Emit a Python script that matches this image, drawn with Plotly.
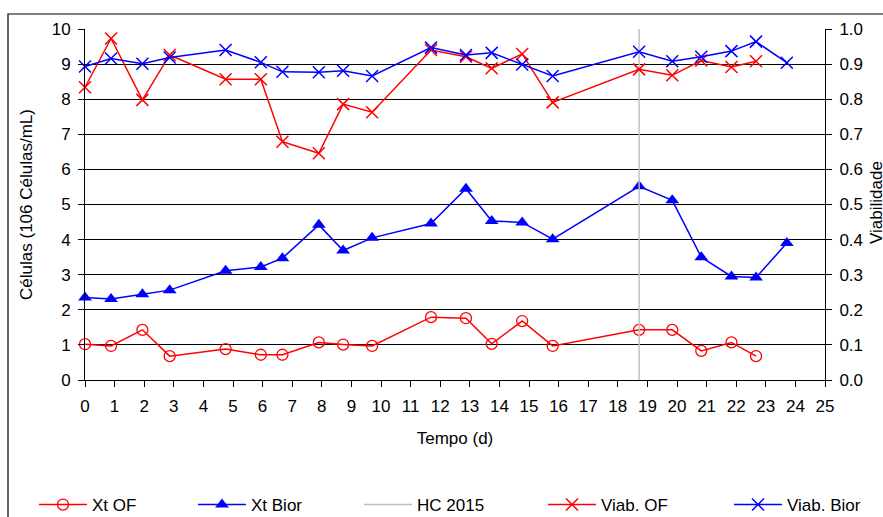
import plotly.graph_objects as go

# Sampling days (d)
dias = [0, 0.88, 1.94, 2.86, 4.75, 5.94, 6.67, 7.9, 8.72, 9.7, 11.69, 12.87,
        13.74, 14.77, 15.8, 18.72, 19.84, 20.82, 21.84, 22.67, 23.71]

# Cell concentration (10^6 cells/mL)
xt_of = [1.02, 0.97, 1.43, 0.68, 0.88, 0.72, 0.72, 1.07, 1.01, 0.97, 1.79,
         1.76, 1.03, 1.68, 0.97, 1.43, 1.43, 0.83, 1.07, 0.68]
xt_bior = [2.35, 2.31, 2.44, 2.56, 3.11, 3.22, 3.47, 4.42, 3.69, 4.05, 4.46,
           5.45, 4.53, 4.49, 4.01, 5.52, 5.12, 3.50, 2.95, 2.92, 3.90]

# Viability (fraction)
viab_of = [0.834, 0.973, 0.798, 0.926, 0.857, 0.857, 0.679, 0.646, 0.786,
           0.763, 0.940, 0.921, 0.888, 0.929, 0.791, 0.885, 0.868, 0.910,
           0.892, 0.908]
viab_bior = [0.893, 0.916, 0.901, 0.919, 0.940, 0.905, 0.878, 0.877, 0.881,
             0.866, 0.947, 0.926, 0.932, 0.899, 0.866, 0.935, 0.908, 0.921,
             0.937, 0.964, 0.904]

# HC 2015 event marker
hc_dia = [18.72, 18.72]
hc_y = [0, 10]

RED = "#FF0000"
BLUE = "#0000FF"
FONT = "Liberation Sans, Arial, sans-serif"
FS = 17

# plot area edges in pixels, used to place the frame, legends and right title
L, R, T, B = 85, 825, 29, 380
W, H = 883, 517
def px_x(p):
    return (p - L) / (R - L)
def px_y(p):
    return (B - p) / (B - T)

fig = go.Figure()

fig.add_trace(go.Scatter(
    x=dias[:len(xt_of)], y=xt_of, name="Xt OF", mode="lines+markers",
    legend="legend",
    line=dict(color=RED, width=1.5),
    marker=dict(symbol="circle-open", size=11, color=RED, line=dict(width=1.3)),
    cliponaxis=False))
fig.add_trace(go.Scatter(
    x=dias[:len(xt_bior)], y=xt_bior, name="Xt Bior", mode="lines+markers",
    legend="legend2",
    line=dict(color=BLUE, width=1.5),
    marker=dict(symbol="triangle-up", size=12, color=BLUE),
    cliponaxis=False))
fig.add_trace(go.Scatter(
    x=hc_dia, y=hc_y, name="HC 2015", mode="lines",
    legend="legend3",
    line=dict(color="#C0C0C0", width=1.5)))
fig.add_trace(go.Scatter(
    x=dias[:len(viab_of)], y=viab_of, name="Viab. OF", mode="lines+markers",
    legend="legend4",
    yaxis="y2", line=dict(color=RED, width=1.5),
    marker=dict(symbol="x-thin-open", size=12, color=RED, line=dict(width=1.5, color=RED)),
    cliponaxis=False))
fig.add_trace(go.Scatter(
    x=dias[:len(viab_bior)], y=viab_bior, name="Viab. Bior", mode="lines+markers",
    legend="legend5",
    yaxis="y2", line=dict(color=BLUE, width=1.5),
    marker=dict(symbol="x-thin-open", size=12, color=BLUE, line=dict(width=1.5, color=BLUE)),
    cliponaxis=False))

axis_common = dict(
    showline=True, linecolor="black", linewidth=1,
    ticks="outside", ticklen=6, tickcolor="black", tickwidth=1,
    tickfont=dict(family=FONT, size=FS, color="black"),
    zeroline=False,
)

# one single-entry legend per series, laid out in a row under the axis title
legend_text_x = [92, 251, 417, 601, 787]
legends = {}
for i, tx in enumerate(legend_text_x):
    key = "legend" if i == 0 else f"legend{i + 1}"
    legends[key] = dict(
        orientation="h", x=px_x(tx - 58), xanchor="left",
        y=px_y(505), yanchor="middle", font=dict(size=FS),
        bgcolor="rgba(0,0,0,0)", itemwidth=48)

fig.update_layout(
    width=W, height=H,
    margin=dict(l=L, r=W - R, t=T, b=H - B, autoexpand=False),
    paper_bgcolor="white", plot_bgcolor="white",
    font=dict(family=FONT, size=FS, color="black"),
    xaxis=dict(range=[0, 25], dtick=1, tick0=0, showgrid=False,
               title=dict(text="Tempo (d)", font=dict(size=FS), standoff=16),
               ticklabelstandoff=5, **axis_common),
    yaxis=dict(range=[0, 10], dtick=1, tick0=0, showgrid=True,
               gridcolor="black", gridwidth=1,
               title=dict(text="Células (106 Células/mL)", font=dict(size=FS), standoff=14),
               ticklabelstandoff=4, **axis_common),
    yaxis2=dict(range=[0, 1], dtick=0.1, tick0=0, tickformat=".1f",
                overlaying="y", side="right", showgrid=False,
                ticklabelstandoff=4, **axis_common),
    showlegend=True,
    shapes=[dict(type="rect", xref="paper", yref="paper",
                 x0=px_x(8), x1=px_x(900), y0=px_y(14), y1=px_y(540),
                 line=dict(color="black", width=1.2), layer="below")],
    annotations=[dict(text="Viabilidade", xref="paper", yref="paper",
                      x=px_x(876), y=px_y(203), textangle=-90,
                      showarrow=False, font=dict(size=FS),
                      xanchor="center", yanchor="middle")],
    **legends,
)

fig.write_html("out.html")
